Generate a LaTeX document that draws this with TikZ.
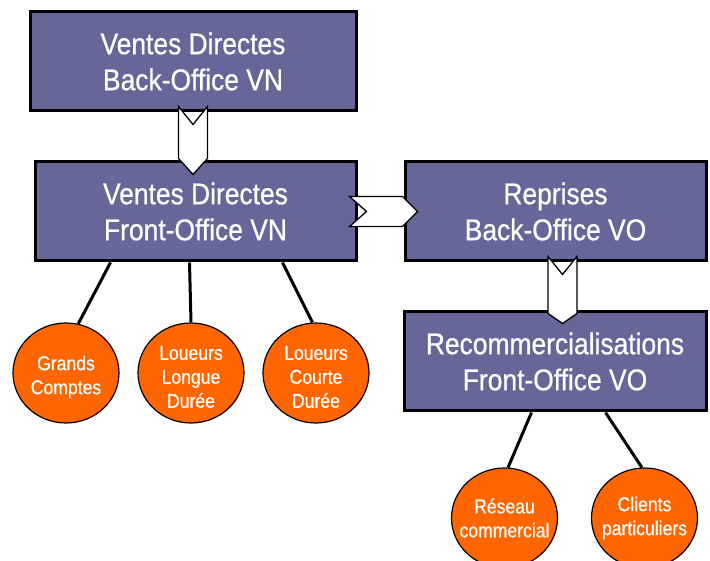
\documentclass[tikz,border=0pt]{standalone}
\usepackage{fontspec}
\setmainfont{Liberation Sans}[FakeStretch=0.88,FakeBold=0.6]
\usetikzlibrary{calc,shapes.geometric}
\definecolor{boxpurple}{RGB}{102,102,153}
\definecolor{leaforange}{RGB}{255,102,0}
\begin{document}
\begin{tikzpicture}[x=1pt,y=-1pt,
  box/.style={draw=black,line width=3pt,fill=boxpurple,text=white,align=center,inner sep=0pt,
    minimum height=99pt,font=\fontsize{30}{36}\selectfont},
  leaf/.style={ellipse,draw=black,line width=1.2pt,fill=leaforange,inner sep=0pt,
    minimum width=106pt,minimum height=100pt},
  leaftext/.style={text=white,align=center,font=\fontsize{20}{24}\selectfont},
  lowtext/.style={leaftext,yshift=-4pt},
  link/.style={line width=3pt,draw=black},
  chev/.style={draw=black,line width=1.3pt,fill=white,line join=miter}]
\useasboundingbox (0,0) rectangle (710,561);

% boxes
\node[box,minimum width=326pt] (b1) at (193,61.5) {Ventes Directes\\Back-Office VN};
\node[box,minimum width=321pt] (b2) at (195.5,211.5) {Ventes Directes\\Front-Office VN};
\node[box,minimum width=301pt] (b3) at (555.5,211.5) {Reprises\\Back-Office VO};
\node[box,minimum width=302pt] (b4) at (555,361.5) {Recommercialisations\\Front-Office VO};

% leaves
\node[leaf,label={[lowtext]center:Grands\\Comptes}] (c1) at (66,373) {};
\node[leaf,label={[lowtext]center:Loueurs\\Longue\\Durée}] (c2) at (191,373) {};
\node[leaf,label={[lowtext]center:Loueurs\\Courte\\Durée}] (c3) at (316,373) {};
\node[leaf,label={[leaftext]center:Réseau\\commercial}] (c4) at (504.5,518) {};
\node[leaf,label={[leaftext]center:Clients\\particuliers}] (c5) at (644.5,518) {};

% links
\draw[link] ($(b2.south west)+(77,0)$) -- (c1.76);
\draw[link] ($(b2.south west)+(156,0)$) -- (c2.north);
\draw[link] ($(b2.south west)+(249,0)$) -- (c3.94);
\draw[link] ($(b4.south west)+(129,0)$) -- (c4.86);
\draw[link] ($(b4.south west)+(203,0)$) -- (c5.93);

% chevron arrows
\draw[chev] ($(b1.south)+(-14.5,-6)$) -- ($(b1.south)+(0,12)$) -- ($(b1.south)+(14.5,-6)$)
  -- ($(b1.south |- b2.north)+(14.5,-2)$) -- ($(b1.south |- b2.north)+(0,14)$)
  -- ($(b1.south |- b2.north)+(-14.5,-2)$) -- cycle;
\draw[chev] ($(b2.east)+(-8,-15)$) -- ($(b2.east)+(9,0)$) -- ($(b2.east)+(-8,15)$)
  -- ($(b3.west)+(-1,15)$) -- ($(b3.west)+(14,0)$) -- ($(b3.west)+(-1,-15)$) -- cycle;
\draw[chev] ($(b3.south)+(-7.5,-6)$) -- ($(b3.south)+(7,12)$) -- ($(b3.south)+(21.5,-6)$)
  -- ($(b3.south |- b4.north)+(21.5,3)$) -- ($(b3.south |- b4.north)+(7,13)$)
  -- ($(b3.south |- b4.north)+(-7.5,3)$) -- cycle;
\end{tikzpicture}
\end{document}
